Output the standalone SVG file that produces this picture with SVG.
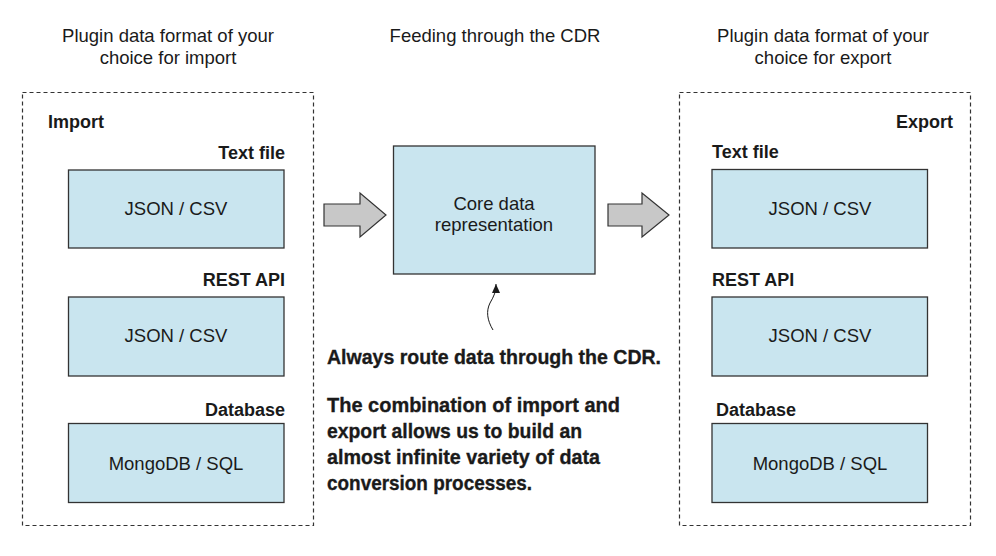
<svg xmlns="http://www.w3.org/2000/svg" width="996" height="556" viewBox="0 0 996 556">
<style>
.t{font-family:"Liberation Sans",Arial,Helvetica,sans-serif;font-size:18.5px;fill:#1a1a1a}
.b{font-family:"Liberation Sans",Arial,Helvetica,sans-serif;font-size:18px;font-weight:bold;fill:#1a1a1a}
.n{font-family:"Liberation Sans",Arial,sans-serif;font-size:21px;font-weight:bold;fill:#1a1a1a;stroke:#1a1a1a;stroke-width:0.35}
.box{fill:#c9e5ef;stroke:#333;stroke-width:1.3}
.dash{fill:none;stroke:#333;stroke-width:1.2;stroke-dasharray:4 3}
.arr{fill:#c8c8c8;stroke:#333;stroke-width:1.2;stroke-linejoin:miter}
.c{text-anchor:middle}
.r{text-anchor:end}
</style>
<defs>
<marker id="ah" markerWidth="10" markerHeight="10" refX="9" refY="4" orient="auto" markerUnits="userSpaceOnUse">
<path d="M0,0 L9,4 L0,8 z" fill="#1a1a1a"/>
</marker>
</defs>
<rect width="996" height="556" fill="#fff"/>

<g id="titles">
<text class="t c" x="168" y="42">Plugin data format of your</text>
<text class="t c" x="168" y="64">choice for import</text>
<text class="t c" x="495" y="42">Feeding through the CDR</text>
<text class="t c" x="823" y="42">Plugin data format of your</text>
<text class="t c" x="823" y="64">choice for export</text>
</g>

<g id="import-group">
<rect class="dash" x="22.5" y="92.5" width="291" height="433"/>
<text class="b" x="48" y="128">Import</text>
</g>
<g id="import-text">
<text class="b r" x="285" y="159">Text file</text>
<rect class="box" x="68.5" y="170" width="215.5" height="78"/>
<text class="t c" x="176" y="215">JSON / CSV</text>
</g>
<g id="import-rest">
<text class="b r" x="285" y="286">REST API</text>
<rect class="box" x="68.5" y="297" width="215.5" height="79"/>
<text class="t c" x="176" y="342">JSON / CSV</text>
</g>
<g id="import-db">
<text class="b r" x="285" y="416">Database</text>
<rect class="box" x="68.5" y="423.5" width="215.5" height="79"/>
<text class="t c" x="176" y="470">MongoDB / SQL</text>
</g>

<g id="cdr">
<rect class="box" x="393.5" y="146" width="201.5" height="128"/>
<text class="t c" x="494" y="210">Core data</text>
<text class="t c" x="494" y="231">representation</text>
</g>

<g id="export-group">
<rect class="dash" x="679.5" y="92.5" width="291" height="433"/>
<text class="b r" x="953" y="128">Export</text>
</g>
<g id="export-text">
<text class="b" x="712" y="158">Text file</text>
<rect class="box" x="712" y="169.5" width="215.5" height="78.5"/>
<text class="t c" x="820" y="215">JSON / CSV</text>
</g>
<g id="export-rest">
<text class="b" x="712" y="286">REST API</text>
<rect class="box" x="712" y="297" width="215.5" height="79"/>
<text class="t c" x="820" y="342">JSON / CSV</text>
</g>
<g id="export-db">
<text class="b" x="716" y="416">Database</text>
<rect class="box" x="712" y="423.5" width="215.5" height="79"/>
<text class="t c" x="820" y="470">MongoDB / SQL</text>
</g>

<g id="connectors">
<polygon class="arr" points="324,204 360,204 360,193 386,215 360,237 360,226 324,226"/>
<polygon class="arr" points="608,204 642,204 642,193 669,215 642,237 642,226 608,226"/>
<path d="M493,330 C487,320 486,311 490,303 C494,296 496,292 496,284" fill="none" stroke="#1a1a1a" stroke-width="1" marker-end="url(#ah)"/>
</g>

<g id="note">
<text class="n" x="327" y="364" textLength="334" lengthAdjust="spacingAndGlyphs">Always route data through the CDR.</text>
<text class="n" x="327" y="412" textLength="293" lengthAdjust="spacingAndGlyphs">The combination of import and</text>
<text class="n" x="327" y="438" textLength="255" lengthAdjust="spacingAndGlyphs">export allows us to build an</text>
<text class="n" x="327" y="464" textLength="273" lengthAdjust="spacingAndGlyphs">almost infinite variety of data</text>
<text class="n" x="327" y="490" textLength="205" lengthAdjust="spacingAndGlyphs">conversion processes.</text>
</g>
</svg>
